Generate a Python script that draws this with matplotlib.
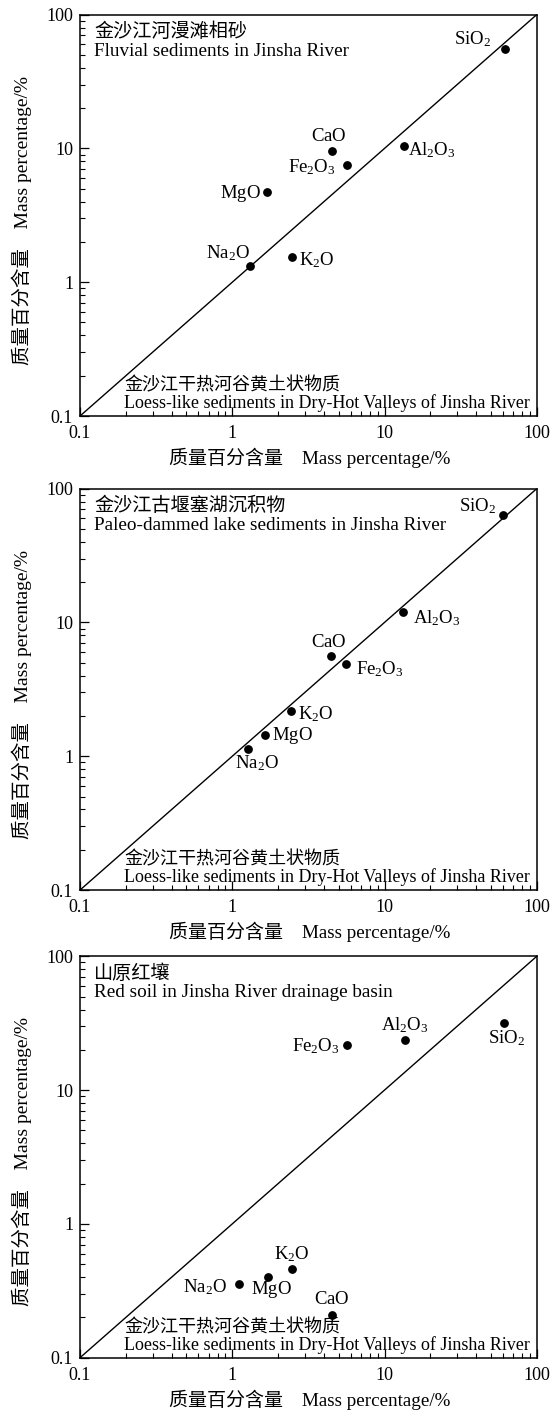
import matplotlib
matplotlib.use('Agg')
import matplotlib.pyplot as plt
from matplotlib.ticker import LogLocator, FixedLocator, FixedFormatter, NullFormatter

plt.rcParams['font.family'] = ['Liberation Serif', 'Noto Sans CJK SC']
plt.rcParams['mathtext.fontset'] = 'custom'
plt.rcParams['mathtext.rm'] = 'Liberation Serif'
plt.rcParams['mathtext.it'] = 'Liberation Serif:italic'

# Oxide names (mathtext)
oxides = ['SiO_2', 'Al_2O_3', 'CaO', 'Fe_2O_3', 'MgO', 'K_2O', 'Na_2O']

# x: loess-like sediments in dry-hot valleys, y: comparison sediments (mass %)
fluvial_x = [61.8, 13.4, 4.53, 5.67, 1.68, 2.47, 1.30]
fluvial_y = [55.7, 10.4, 9.6, 7.57, 4.71, 1.54, 1.33]

lake_x = [60.2, 13.2, 4.48, 5.55, 1.65, 2.42, 1.26]
lake_y = [63.0, 11.9, 5.65, 4.92, 1.44, 2.16, 1.13]

redsoil_x = [61.2, 13.6, 4.53, 5.70, 1.71, 2.47, 1.10]
redsoil_y = [31.7, 23.6, 0.209, 21.8, 0.398, 0.462, 0.356]

titles_cn = ['金沙江河漫滩相砂', '金沙江古堰塞湖沉积物', '山原红壤']
titles_en = ['Fluvial sediments in Jinsha River',
             'Paleo-dammed lake sediments in Jinsha River',
             'Red soil in Jinsha River drainage basin']

# label offsets in pixels (dx, dy, ha) per panel, same order as oxides
offsets = [
    [(-14, 9, 'right'), (4, -4, 'left'), (-3, 14, 'center'), (-11, -3, 'right'),
     (-6, -1, 'right'), (7, -3, 'left'), (0, 12, 'right')],
    [(-7, 9, 'right'), (10, -6, 'left'), (-3, 13, 'center'), (10, -6, 'left'),
     (7, 0, 'left'), (7, -3, 'left'), (9, -14, 'center')],
    [(2, -15, 'center'), (0, 15, 'center'), (0, 15, 'center'), (-8, -1, 'right'),
     (4, -12, 'center'), (0, 15, 'center'), (-12, -3, 'right')],
]

datasets = [(fluvial_x, fluvial_y), (lake_x, lake_y), (redsoil_x, redsoil_y)]
bottoms = [0.706, 0.371, 0.0405]

fig = plt.figure(figsize=(5.53, 14.15), dpi=100)

for i, (xs, ys) in enumerate(datasets):
    ax = fig.add_axes([0.1447, bottoms[i], 0.826, 0.2837])
    ax.set_xscale('log')
    ax.set_yscale('log')
    ax.set_xlim(0.1, 100)
    ax.set_ylim(0.1, 100)

    # 1:1 line
    ax.plot([0.1, 100], [0.1, 100], color='black', lw=1.0)
    ax.scatter(xs, ys, s=28, color='black', zorder=3)

    for name, x, y, (dx, dy, ha) in zip(oxides, xs, ys, offsets[i]):
        ax.annotate(r'$\mathrm{%s}$' % name, (x, y), xytext=(dx, dy),
                    textcoords='offset pixels', ha=ha, va='center', fontsize=13.5)

    ticks = [0.1, 1, 10, 100]
    ticklabels = ['0.1', '1', '10', '100']
    for axis in (ax.xaxis, ax.yaxis):
        axis.set_major_locator(FixedLocator(ticks))
        axis.set_major_formatter(FixedFormatter(ticklabels))
        axis.set_minor_locator(LogLocator(base=10, subs=range(2, 10)))
        axis.set_minor_formatter(NullFormatter())
    ax.tick_params(which='major', direction='in', length=6.5, width=0.9,
                   labelsize=13)
    ax.tick_params(which='minor', direction='in', length=3.5, width=0.8)
    ax.tick_params(axis='x', which='major', pad=6.5)
    ax.tick_params(axis='y', which='major', pad=5)
    for sp in ax.spines.values():
        sp.set_linewidth(1.1)

    ax.text(0.031, 0.956, titles_cn[i], transform=ax.transAxes, fontsize=13.8,
            ha='left', va='center')
    ax.text(0.031, 0.909, titles_en[i], transform=ax.transAxes, fontsize=13.8,
            ha='left', va='center')
    ax.text(0.0965, 0.0747, '金沙江干热河谷黄土状物质', transform=ax.transAxes,
            fontsize=13, ha='left', va='center')
    ax.text(0.0965, 0.0324, 'Loess-like sediments in Dry-Hot Valleys of Jinsha River',
            transform=ax.transAxes, fontsize=13, ha='left', va='center')

    ax.set_xlabel('质量百分含量\u3000Mass percentage/%', fontsize=13.7, va='center')
    ax.set_ylabel('质量百分含量\u3000Mass percentage/%', fontsize=14, va='center')
    ax.xaxis.set_label_coords(0.503, -0.104)
    ax.yaxis.set_label_coords(-0.127, 0.488)

fig.savefig('out.png', dpi=100)
